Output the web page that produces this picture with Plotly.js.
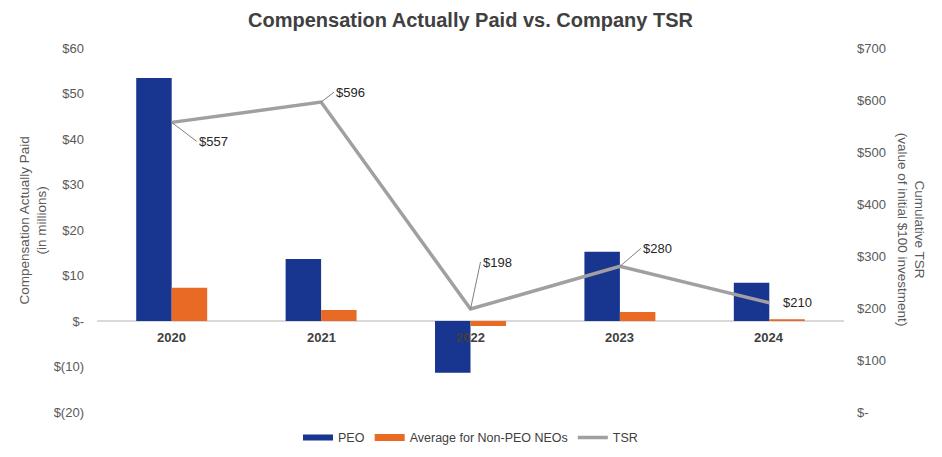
<!DOCTYPE html>
<html>
<head>
<meta charset="utf-8">
<script src="https://cdn.plot.ly/plotly-3.0.1.min.js"></script>
<style>html,body{margin:0;padding:0;background:#fff;}#chart{width:942px;height:457px;}</style>
</head>
<body>
<div id="chart"></div>
<script>
const years = ["2020", "2021", "2022", "2023", "2024"];
const peo = [53.4, 13.6, -11.4, 15.2, 8.4];
const neo = [7.3, 2.4, -1.1, 2.0, 0.4];
const tsr = [557, 596, 198, 280, 210];
const tsrLabels = ["$557", "$596", "$198", "$280", "$210"];
const leftTickVals = [-20, -10, 0, 10, 20, 30, 40, 50, 60];
const leftTickText = ["$(20)", "$(10)", "$-", "$10", "$20", "$30", "$40", "$50", "$60"];
const rightTickVals = [0, 100, 200, 300, 400, 500, 600, 700];
const rightTickText = ["$-", "$100", "$200", "$300", "$400", "$500", "$600", "$700"];

const FONT = "Liberation Sans, Arial, sans-serif";
const TXT = "#595959";
const BLUE = "#18358F", ORANGE = "#E86A25", GRAY = "#A0A0A0";

const traces = [
  {type: "bar", name: "PEO", x: years, y: peo, marker: {color: BLUE}, hoverinfo: "skip", showlegend: false},
  {type: "bar", name: "Average for Non-PEO NEOs", x: years, y: neo, marker: {color: ORANGE}, hoverinfo: "skip", showlegend: false},
  {type: "scatter", mode: "lines", name: "TSR", x: years, y: tsr, yaxis: "y2",
   line: {color: GRAY, width: 3.5}, hoverinfo: "skip", legendrank: 3},
  // legend-only swatches (wide rectangles like the original)
  {type: "scatter", mode: "lines", name: "PEO", x: [null], y: [null], line: {color: BLUE, width: 6}, legendrank: 1, hoverinfo: "skip"},
  {type: "scatter", mode: "lines", name: "Average for Non-PEO NEOs", x: [null], y: [null], line: {color: ORANGE, width: 7}, legendrank: 2, hoverinfo: "skip"}
];

// label offsets (pixels) for TSR data labels
const labelOffsets = [[25, 19, true], [13, -10, true], [10, -47, true], [21, -18, true], [12, 0, false]];

const annotations = [];
years.forEach((yr, i) => {
  const [ax, ay, arrow] = labelOffsets[i];
  if (arrow) {
    annotations.push({x: i, y: tsr[i], xref: "x", yref: "y2", text: tsrLabels[i],
      showarrow: true, arrowhead: 0, arrowwidth: 1, arrowcolor: "#808080", ax: ax, ay: ay,
      xanchor: "left", font: {family: FONT, size: 13, color: "#262626"}, standoff: 0});
  } else {
    annotations.push({x: i, y: tsr[i], xref: "x", yref: "y2", text: tsrLabels[i],
      showarrow: false, xanchor: "left", xshift: ax, yshift: 0,
      font: {family: FONT, size: 13, color: "#262626"}});
  }
  // category labels placed just below the zero line
  annotations.push({x: i, y: 0, xref: "x", yref: "y", text: "<b>" + yr + "</b>",
    showarrow: false, yanchor: "middle", yshift: -16,
    font: {family: FONT, size: 13, color: "#404040"}});
});
annotations.push({xref: "paper", yref: "paper", x: -0.085, y: 0.525, text: "Compensation Actually Paid<br>(in millions)",
  showarrow: false, textangle: -90, xanchor: "center", yanchor: "middle",
  font: {family: FONT, size: 13.5, color: TXT}});
annotations.push({xref: "paper", yref: "paper", x: 1.09, y: 0.5, text: "Cumulative TSR<br>(value of initial $100 investment)",
  showarrow: false, textangle: 90, xanchor: "center", yanchor: "middle",
  font: {family: FONT, size: 13.5, color: TXT}});

const layout = {
  width: 942, height: 457,
  margin: {l: 97, r: 98, t: 48, b: 45, autoexpand: false},
  paper_bgcolor: "#fff", plot_bgcolor: "#fff",
  title: {text: "<b>Compensation Actually Paid vs. Company TSR</b>", x: 0.5, xref: "paper", y: 1 - 20/457, yref: "container", yanchor: "middle",
    font: {family: FONT, size: 20, color: "#404040"}},
  barmode: "group", bargap: 0.525, bargroupgap: 0,
  showlegend: true,
  legend: {orientation: "h", x: 0.5, xanchor: "center", y: -0.071, yanchor: "middle",
    font: {family: FONT, size: 12.5, color: "#404040"}, itemwidth: 30, tracegroupgap: 0},
  xaxis: {type: "category", range: [-0.5, 4.5], autorange: false, showticklabels: false, showgrid: false, zeroline: false, showline: false, ticks: "", fixedrange: true},
  yaxis: {range: [-20, 60], autorange: false, tickvals: leftTickVals, ticktext: leftTickText, showgrid: false,
    zeroline: true, zerolinecolor: "#D9D9D9", zerolinewidth: 1.5, showline: false, ticks: "",
    ticklabelstandoff: 12, tickfont: {family: FONT, size: 13, color: TXT}},
  yaxis2: {range: [0, 700], autorange: false, overlaying: "y", side: "right", tickvals: rightTickVals, ticktext: rightTickText,
    showgrid: false, zeroline: false, showline: false, ticks: "", ticklabelstandoff: 12,
    tickfont: {family: FONT, size: 13, color: TXT}},
  annotations: annotations
};

Plotly.newPlot("chart", traces, layout, {displayModeBar: false, staticPlot: true});
</script>
</body>
</html>
